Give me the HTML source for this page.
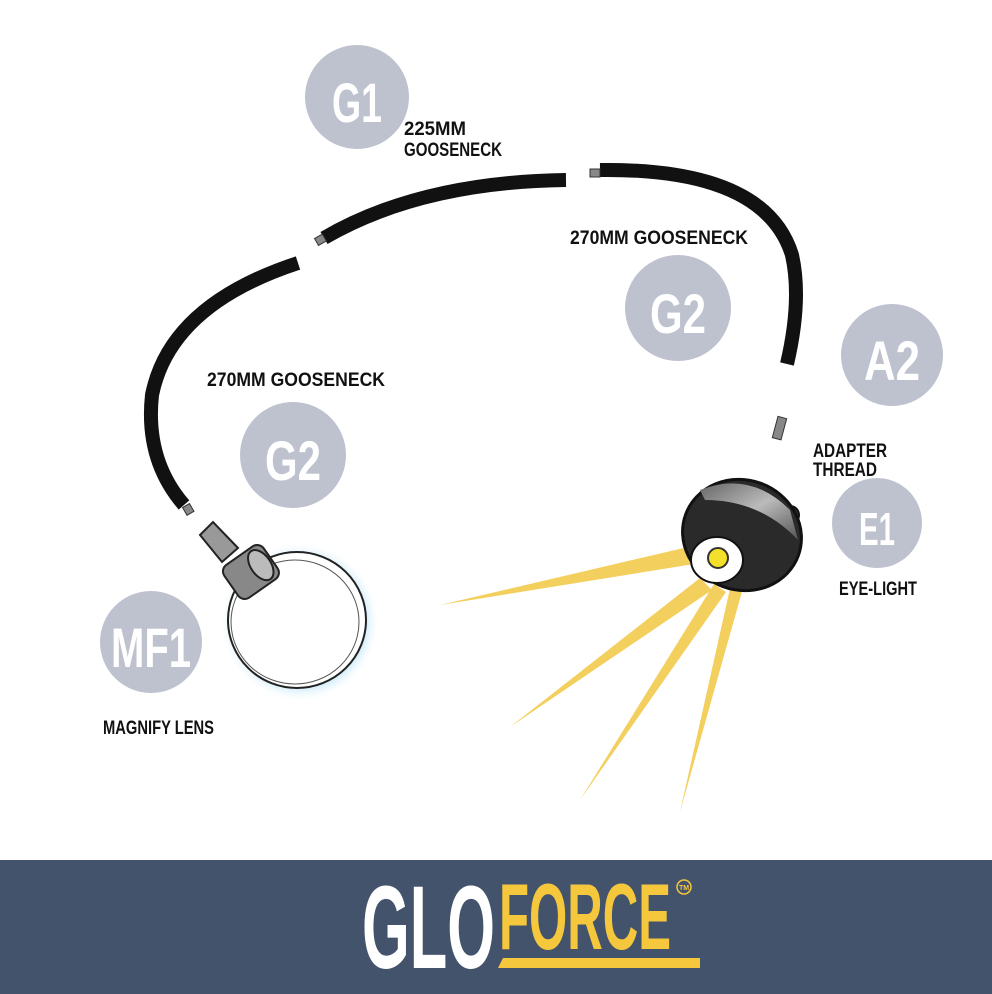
<!DOCTYPE html>
<html><head><style>
html,body{margin:0;padding:0;background:#fff;}
svg{display:block}
text{font-family:"Liberation Sans Narrow","Liberation Sans",sans-serif;font-weight:bold;}
</style></head><body>
<svg width="992" height="994" viewBox="0 0 992 994" xmlns="http://www.w3.org/2000/svg">
<defs>
<radialGradient id="glow" cx="50%" cy="50%" r="50%">
<stop offset="80%" stop-color="#bfe6f7" stop-opacity="0.9"/>
<stop offset="100%" stop-color="#ffffff" stop-opacity="0"/>
</radialGradient>
<linearGradient id="band" x1="0" y1="0" x2="1" y2="1">
<stop offset="0" stop-color="#666"/><stop offset="0.5" stop-color="#bbb"/><stop offset="1" stop-color="#555"/>
</linearGradient>
</defs>
<rect width="992" height="994" fill="#fff"/>
<g fill="#bec2cf">
<circle cx="357" cy="97" r="52"/>
<circle cx="678" cy="308" r="53"/>
<circle cx="892" cy="355" r="51"/>
<circle cx="293" cy="455" r="53"/>
<circle cx="877" cy="523" r="45"/>
<circle cx="151" cy="642" r="51"/>
</g>
<g fill="#fff" text-anchor="middle" font-size="56">
<text x="357" y="122" textLength="50" lengthAdjust="spacingAndGlyphs">G1</text>
<text x="678" y="333" textLength="56" lengthAdjust="spacingAndGlyphs">G2</text>
<text x="892" y="380" textLength="56" lengthAdjust="spacingAndGlyphs">A2</text>
<text x="293" y="480" textLength="56" lengthAdjust="spacingAndGlyphs">G2</text>
<text x="877" y="545" font-size="46" textLength="36" lengthAdjust="spacingAndGlyphs">E1</text>
<text x="151" y="667" textLength="80" lengthAdjust="spacingAndGlyphs">MF1</text>
</g>
<g fill="#111" font-size="19">
<text x="404" y="135" textLength="62" lengthAdjust="spacingAndGlyphs">225MM</text>
<text x="404" y="156" textLength="98" lengthAdjust="spacingAndGlyphs">GOOSENECK</text>
<text x="570" y="244" textLength="178" lengthAdjust="spacingAndGlyphs">270MM GOOSENECK</text>
<text x="207" y="386" textLength="178" lengthAdjust="spacingAndGlyphs">270MM GOOSENECK</text>
<text x="813" y="457" textLength="74" lengthAdjust="spacingAndGlyphs">ADAPTER</text>
<text x="813" y="476" textLength="64" lengthAdjust="spacingAndGlyphs">THREAD</text>
<text x="839" y="595" textLength="78" lengthAdjust="spacingAndGlyphs">EYE-LIGHT</text>
<text x="103" y="734" textLength="111" lengthAdjust="spacingAndGlyphs">MAGNIFY LENS</text>
</g>
<g fill="none" stroke="#111" stroke-width="14">
<path d="M298,263 Q170,305 152,395 Q145,460 184,505"/>
<path d="M324,238 Q420,182 566,180"/>
<path d="M600,170 Q765,168 792,255 Q802,300 787,364"/>
</g>
<g fill="#888" stroke="#333" stroke-width="1">
<rect x="184" y="505" width="8" height="9" transform="rotate(-30 188 509)"/>
<rect x="316" y="236" width="9" height="8" transform="rotate(-30 320 240)"/>
<rect x="590" y="169" width="10" height="8"/>
<rect x="775" y="417" width="9" height="22" transform="rotate(15 779 428)"/>
</g>
<circle cx="300" cy="622" r="80" fill="url(#glow)"/>
<ellipse cx="297" cy="620" rx="69" ry="68" fill="#fff" stroke="#222" stroke-width="2"/>
<ellipse cx="295" cy="622" rx="64" ry="62" fill="none" stroke="#555" stroke-width="1"/>
<polygon points="200,535 213,522 238,548 222,562" fill="#999" stroke="#222" stroke-width="2"/>
<g transform="rotate(-35 252 570)">
<rect x="226" y="551" width="48" height="40" rx="8" fill="#888" stroke="#222" stroke-width="2"/>
<ellipse cx="262" cy="571" rx="10" ry="17" fill="#bbb" stroke="#222" stroke-width="2"/>
</g>
<g fill="#f3cf5e">
<polygon points="688,547 694,564 440,605"/>
<polygon points="700,578 712,590 510,727"/>
<polygon points="714,584 726,592 580,800"/>
<polygon points="731,584 743,588 680,812"/>
</g>
<circle cx="760" cy="518" r="12" fill="#333" stroke="#111" stroke-width="2"/>
<circle cx="790" cy="515" r="9" fill="#333" stroke="#111" stroke-width="2"/>
<ellipse cx="742" cy="535" rx="60" ry="55" fill="#2a2a2a" stroke="#111" stroke-width="3" transform="rotate(20 742 535)"/>
<path d="M700,490 Q750,470 790,510 L798,540 Q760,500 705,500 Z" fill="url(#band)"/>
<ellipse cx="717" cy="560" rx="26" ry="23" fill="#fff" stroke="#111" stroke-width="2"/>
<circle cx="718" cy="558" r="10" fill="#f2e02a" stroke="#333" stroke-width="2"/>
<rect x="0" y="860" width="992" height="134" fill="#44536c"/>
<text x="362" y="968" font-size="118" fill="#fff" textLength="133" lengthAdjust="spacingAndGlyphs">GLO</text>
<text x="499" y="949" font-size="94" fill="#f4c73c" textLength="172" lengthAdjust="spacingAndGlyphs">FORCE</text>
<polygon points="503,958 700,958 700,968 498,968" fill="#f4c73c"/>
<circle cx="684" cy="887" r="7" fill="none" stroke="#f4c73c" stroke-width="1.5"/>
<text x="684" y="890" font-size="7" fill="#f4c73c" text-anchor="middle">TM</text>
</svg>
</body></html>
